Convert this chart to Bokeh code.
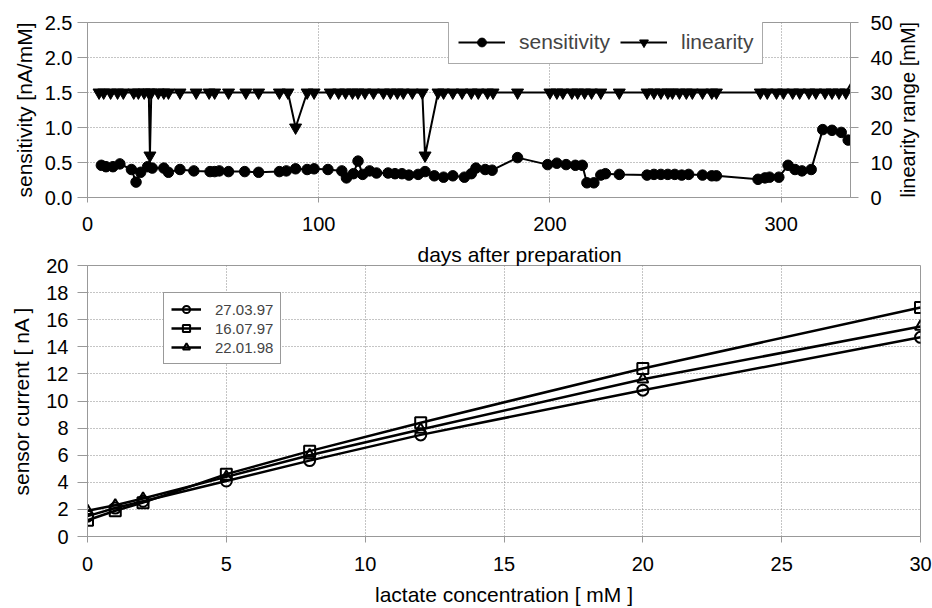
import math
from bokeh.plotting import figure
from bokeh.models import (Range1d, LinearAxis, FixedTicker, Legend, LegendItem, Title,
                          NumeralTickFormatter)
from bokeh.embed import file_html
from bokeh.resources import INLINE

# ---------------- data: top panel ----------------
sens_days = [6, 8, 11, 14, 19, 21, 23, 26, 28, 33, 35, 40, 46, 53, 55, 57, 61, 68, 74, 83,
             86, 90, 95, 98, 104, 110, 112, 115, 117, 119, 122, 125, 130, 133, 136, 139, 143, 146,
             150, 154, 158, 163, 166, 168, 172, 175, 186, 199, 203, 207, 211, 214, 216, 219, 222,
             224, 230, 242, 245, 248, 251, 254, 257, 260, 266, 270, 272, 290, 293, 295, 299, 303,
             306, 309, 313, 318, 322, 326, 329]
sens_vals = [0.46, 0.44, 0.44, 0.48, 0.40, 0.22, 0.36, 0.44, 0.42, 0.42, 0.36, 0.40, 0.38, 0.37,
             0.37, 0.38, 0.37, 0.37, 0.36, 0.37,
             0.38, 0.41, 0.40, 0.41, 0.40, 0.38, 0.28, 0.34, 0.52, 0.33, 0.38, 0.35, 0.35, 0.34,
             0.34, 0.32, 0.33, 0.37,
             0.31, 0.29, 0.31, 0.29, 0.34, 0.42, 0.40, 0.39, 0.57, 0.47, 0.49, 0.47, 0.46, 0.46,
             0.21, 0.21, 0.32,
             0.34, 0.33, 0.32, 0.33, 0.33, 0.33, 0.33, 0.32, 0.33, 0.32, 0.31, 0.31, 0.26, 0.28,
             0.29, 0.29, 0.46,
             0.40, 0.38, 0.40, 0.97, 0.96, 0.93, 0.82]

lin_days = [5, 7, 10, 13, 15.5, 20, 22, 24.5, 26.5, 27, 27.6, 30.6, 33, 35, 40, 47, 52.6, 55, 61,
            68.5, 74, 83, 86.7, 90, 95, 98, 105, 108.6, 111.6, 114.6, 117, 120, 123.7, 128, 131,
            134, 136.6, 140.5, 144.8, 146, 151.6, 154, 158, 162, 166, 169, 173, 175.4, 186, 200,
            203, 205.6, 209.5, 212, 215, 218, 222, 230, 242, 245, 248, 251, 253, 256, 259, 261.6,
            266, 270, 272, 291, 294, 298, 301, 305, 308, 312, 315, 319, 322, 325, 328, 334]
lin_vals = [30, 30, 30, 30, 30, 30, 30, 30, 30, 12, 30, 30, 30, 30, 30, 30, 30, 30, 30,
            30, 30, 30, 30, 20, 30, 30, 30, 30, 30, 30, 30, 30, 30, 30, 30,
            30, 30, 30, 30, 12, 30, 30, 30, 30, 30, 30, 30, 30, 30, 30,
            30, 30, 30, 30, 30, 30, 30, 30, 30, 30, 30, 30, 30, 30, 30, 30,
            30, 30, 30, 30, 30, 30, 30, 30, 30, 30, 30, 30, 30, 30, 30, 37]

top_x_ticks = [0, 100, 200, 300]
top_y_ticks = [0.0, 0.5, 1.0, 1.5, 2.0, 2.5]
top_y2_ticks = [0, 10, 20, 30, 40, 50]

# ---------------- data: bottom panel ----------------
conc = [0, 1, 2, 5, 8, 12, 20, 30]
cur_270397 = [1.5, 2.1, 2.6, 4.1, 5.6, 7.5, 10.8, 14.7]
cur_160797 = [1.2, 1.9, 2.5, 4.6, 6.3, 8.4, 12.4, 16.9]
cur_220198 = [1.9, 2.3, 2.8, 4.4, 6.0, 7.9, 11.6, 15.5]
bot_x_ticks = [0, 5, 10, 15, 20, 25, 30]
bot_y_ticks = [0, 2, 4, 6, 8, 10, 12, 14, 16, 18, 20]

FONT = "Liberation Sans"
GRID = "#8a8a8a"
FRAME = "#999999"
TICK_FS = "20px"
LABEL_FS = "21px"


def style_axis(ax, tick_out):
    ax.major_label_text_font = FONT
    ax.major_label_text_font_size = TICK_FS
    ax.major_label_text_color = "black"
    ax.axis_label_text_font = FONT
    ax.axis_label_text_font_size = LABEL_FS
    ax.axis_label_text_font_style = "normal"
    ax.axis_label_text_color = "black"
    ax.axis_line_color = FRAME
    ax.major_tick_line_color = FRAME
    ax.major_tick_in = 0
    ax.major_tick_out = tick_out
    ax.minor_tick_line_color = None


def style_grid(p):
    for g in (p.xgrid, p.ygrid):
        g.grid_line_color = GRID
        g.grid_line_dash = "1 2"
        g.grid_line_width = 1


# ---------------- top figure ----------------
p1 = figure(width=932, height=238, output_backend="svg", toolbar_location=None,
            x_range=Range1d(0, 330), y_range=Range1d(0, 2.5),
            min_border_left=87, min_border_right=80, min_border_top=22, min_border_bottom=41)
p1.extra_y_ranges = {"lin": Range1d(0, 50)}
p1.outline_line_color = FRAME
p1.xaxis.ticker = FixedTicker(ticks=top_x_ticks)
p1.yaxis.ticker = FixedTicker(ticks=top_y_ticks)
p1.yaxis.formatter = NumeralTickFormatter(format="0.0")
p1.yaxis.axis_label = "sensitivity [nA/mM]"
style_axis(p1.xaxis[0], 5)
style_axis(p1.yaxis[0], 10)
p1.xaxis.major_label_standoff = 14
p1.yaxis.major_label_standoff = 5
p1.yaxis.axis_label_standoff = 6

ax2 = LinearAxis(y_range_name="lin", ticker=FixedTicker(ticks=top_y2_ticks),
                 axis_label="linearity range [mM]")
style_axis(ax2, 8)
ax2.axis_label_text_font_size = "20px"
ax2.major_label_standoff = 12
ax2.axis_label_standoff = 12
ax2.axis_label_orientation = math.pi / 2
try:
    ax2.axis_label_align = "start"
except Exception:
    pass
p1.add_layout(ax2, "right")
style_grid(p1)

l_s = p1.line(sens_days, sens_vals, line_color="black", line_width=2)
m_s = p1.scatter(sens_days, sens_vals, marker="circle", size=10.5, fill_color="black",
                 line_color="black")
l_l = p1.line(lin_days, lin_vals, line_color="black", line_width=2, y_range_name="lin")
m_l = p1.scatter(lin_days[:-1], lin_vals[:-1], marker="inverted_triangle", size=12,
                 fill_color="black", line_color="black", y_range_name="lin")

leg1 = Legend(items=[LegendItem(label="sensitivity", renderers=[l_s, m_s]),
                     LegendItem(label="linearity", renderers=[l_l, m_l])],
              orientation="horizontal", location=(361, 133),
              label_text_font=FONT, label_text_font_size=LABEL_FS,
              glyph_width=47, glyph_height=22, label_height=22, label_standoff=14, spacing=10,
              padding=9, margin=0, border_line_color="#555555", border_line_width=1,
              background_fill_color="white", background_fill_alpha=1.0)
p1.add_layout(leg1)

# ---------------- bottom figure ----------------
p2 = figure(width=932, height=370, output_backend="svg", toolbar_location=None,
            x_range=Range1d(0, 30), y_range=Range1d(0, 20),
            min_border_left=87, min_border_right=12, min_border_top=27, min_border_bottom=72)
p2.outline_line_color = FRAME
p2.add_layout(Title(text="days after preparation", align="left", offset=330,
                    text_font=FONT, text_font_size=LABEL_FS, text_font_style="normal",
                    text_color="black", standoff=0), "above")
p2.xaxis.ticker = FixedTicker(ticks=bot_x_ticks)
p2.yaxis.ticker = FixedTicker(ticks=bot_y_ticks)
p2.xaxis.axis_label = "lactate concentration [ mM ]"
p2.yaxis.axis_label = "sensor current [ nA ]"
style_axis(p2.xaxis[0], 6)
style_axis(p2.yaxis[0], 10)
p2.xaxis.major_label_standoff = 14
p2.xaxis.axis_label_standoff = 9
p2.yaxis.major_label_standoff = 9
p2.yaxis.axis_label_standoff = 10
style_grid(p2)

items = []
for vals, mk, lab in ((cur_270397, "circle", "27.03.97"),
                      (cur_160797, "square", "16.07.97"),
                      (cur_220198, "triangle", "22.01.98")):
    ln = p2.line(conc, vals, line_color="black", line_width=2.5)
    sc = p2.scatter(conc, vals, marker=mk, size=11, fill_color="white", fill_alpha=0.0,
                    line_color="black", line_width=2)
    items.append(LegendItem(label=lab, renderers=[ln, sc]))

leg2 = Legend(items=items, orientation="vertical", location=(76, 172),
              label_text_font=FONT, label_text_font_size="15px",
              glyph_width=30, glyph_height=18, label_height=18, label_standoff=14, spacing=1,
              padding=7, margin=0, border_line_color="#333333", border_line_width=1,
              background_fill_color="white", background_fill_alpha=1.0)
p2.add_layout(leg2)

open("out.html", "w").write(file_html([p1, p2], INLINE))
